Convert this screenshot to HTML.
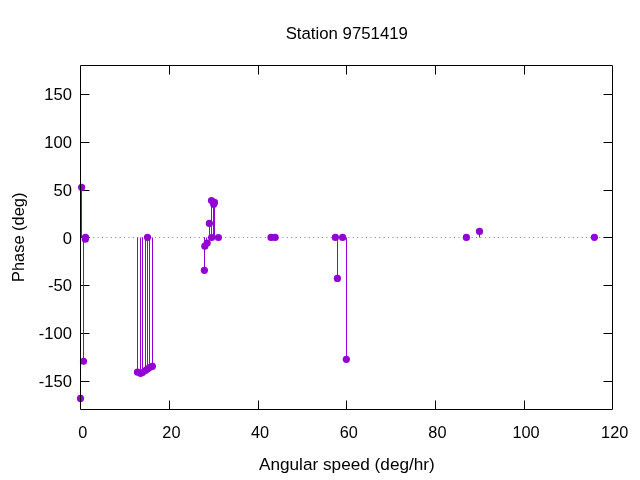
<!DOCTYPE html>
<html><head><meta charset="utf-8"><style>
html,body{margin:0;padding:0;background:#fff;width:640px;height:480px;overflow:hidden}
svg{display:block;will-change:transform}
.t{font-family:"Liberation Sans",sans-serif;font-size:16.3px;fill:#000}
.l{font-family:"Liberation Sans",sans-serif;font-size:17px;fill:#000}
</style></head><body>
<svg width="640" height="480" viewBox="0 0 640 480">
<rect width="640" height="480" fill="#fff"/>
<path d="M80.00 237.5h1M84.40 237.5h1M88.80 237.5h1M93.20 237.5h1M97.60 237.5h1M102.00 237.5h1M106.40 237.5h1M110.80 237.5h1M115.20 237.5h1M119.60 237.5h1M124.00 237.5h1M128.40 237.5h1M132.80 237.5h1M137.20 237.5h1M141.60 237.5h1M146.00 237.5h1M150.40 237.5h1M154.80 237.5h1M159.20 237.5h1M163.60 237.5h1M168.00 237.5h1M172.40 237.5h1M176.80 237.5h1M181.20 237.5h1M185.60 237.5h1M190.00 237.5h1M194.40 237.5h1M198.80 237.5h1M203.20 237.5h1M207.60 237.5h1M212.00 237.5h1M216.40 237.5h1M220.80 237.5h1M225.20 237.5h1M229.60 237.5h1M234.00 237.5h1M238.40 237.5h1M242.80 237.5h1M247.20 237.5h1M251.60 237.5h1M256.00 237.5h1M260.40 237.5h1M264.80 237.5h1M269.20 237.5h1M273.60 237.5h1M278.00 237.5h1M282.40 237.5h1M286.80 237.5h1M291.20 237.5h1M295.60 237.5h1M300.00 237.5h1M304.40 237.5h1M308.80 237.5h1M313.20 237.5h1M317.60 237.5h1M322.00 237.5h1M326.40 237.5h1M330.80 237.5h1M335.20 237.5h1M339.60 237.5h1M344.00 237.5h1M348.40 237.5h1M352.80 237.5h1M357.20 237.5h1M361.60 237.5h1M366.00 237.5h1M370.40 237.5h1M374.80 237.5h1M379.20 237.5h1M383.60 237.5h1M388.00 237.5h1M392.40 237.5h1M396.80 237.5h1M401.20 237.5h1M405.60 237.5h1M410.00 237.5h1M414.40 237.5h1M418.80 237.5h1M423.20 237.5h1M427.60 237.5h1M432.00 237.5h1M436.40 237.5h1M440.80 237.5h1M445.20 237.5h1M449.60 237.5h1M454.00 237.5h1M458.40 237.5h1M462.80 237.5h1M467.20 237.5h1M471.60 237.5h1M476.00 237.5h1M480.40 237.5h1M484.80 237.5h1M489.20 237.5h1M493.60 237.5h1M498.00 237.5h1M502.40 237.5h1M506.80 237.5h1M511.20 237.5h1M515.60 237.5h1M520.00 237.5h1M524.40 237.5h1M528.80 237.5h1M533.20 237.5h1M537.60 237.5h1M542.00 237.5h1M546.40 237.5h1M550.80 237.5h1M555.20 237.5h1M559.60 237.5h1M564.00 237.5h1M568.40 237.5h1M572.80 237.5h1M577.20 237.5h1M581.60 237.5h1M586.00 237.5h1M590.40 237.5h1M594.80 237.5h1M599.20 237.5h1M603.60 237.5h1M608.00 237.5h1" stroke="#808080" stroke-width="1" fill="none"/>
<path d="M80.5 381.5h9M612.5 381.5h-9M80.5 333.5h9M612.5 333.5h-9M80.5 285.5h9M612.5 285.5h-9M80.5 237.5h9M612.5 237.5h-9M80.5 190.5h9M612.5 190.5h-9M80.5 142.5h9M612.5 142.5h-9M80.5 94.5h9M612.5 94.5h-9M169.5 409.5v-9M169.5 65.5v9M258.5 409.5v-9M258.5 65.5v9M346.5 409.5v-9M346.5 65.5v9M435.5 409.5v-9M435.5 65.5v9M524.5 409.5v-9M524.5 65.5v9" stroke="#000" stroke-width="1" fill="none"/>
<path d="M80.5 237.5V398.4M81.5 237.5V187.3M83.5 237.5V361.25M85.5 237.5V237.4M85.5 237.5V239.2M137.5 237.5V372.2M140.5 237.5V373.3M142.5 237.5V372.5M145.5 237.5V370.5M147.5 237.5V369.0M149.5 237.5V367.5M152.5 237.5V366.3M147.5 237.5V237.3M204.5 237.5V270.3M204.5 237.5V246.2M206.5 237.5V243.0M209.5 237.5V223.4M211.5 237.5V200.5M214.5 237.5V202.4M213.5 237.5V204.3M211.5 237.5V237.5M218.5 237.5V237.5M271.5 237.5V237.4M275.5 237.5V237.4M335.0 237.5V237.4M337.5 237.5V278.4M342.5 237.5V237.4M346.5 237.5V359.3M466.5 237.5V237.4M479.5 237.5V231.4M594.5 237.5V237.3" stroke="#9400d3" stroke-width="1" fill="none"/>
<circle cx="80.5" cy="398.4" r="3.6" fill="#9400d3"/>
<circle cx="81.6" cy="187.3" r="3.6" fill="#9400d3"/>
<circle cx="83.5" cy="361.25" r="3.6" fill="#9400d3"/>
<circle cx="85.5" cy="237.4" r="3.6" fill="#9400d3"/>
<circle cx="85.3" cy="239.2" r="3.6" fill="#9400d3"/>
<circle cx="137.5" cy="372.2" r="3.6" fill="#9400d3"/>
<circle cx="140.5" cy="373.3" r="3.6" fill="#9400d3"/>
<circle cx="142.5" cy="372.5" r="3.6" fill="#9400d3"/>
<circle cx="145.5" cy="370.5" r="3.6" fill="#9400d3"/>
<circle cx="147.5" cy="369.0" r="3.6" fill="#9400d3"/>
<circle cx="149.5" cy="367.5" r="3.6" fill="#9400d3"/>
<circle cx="152.4" cy="366.3" r="3.6" fill="#9400d3"/>
<circle cx="147.5" cy="237.3" r="3.6" fill="#9400d3"/>
<circle cx="204.4" cy="270.3" r="3.6" fill="#9400d3"/>
<circle cx="204.8" cy="246.2" r="3.6" fill="#9400d3"/>
<circle cx="207.2" cy="243.0" r="3.6" fill="#9400d3"/>
<circle cx="209.4" cy="223.4" r="3.6" fill="#9400d3"/>
<circle cx="211.5" cy="200.5" r="3.6" fill="#9400d3"/>
<circle cx="214.5" cy="202.4" r="3.6" fill="#9400d3"/>
<circle cx="213.7" cy="204.3" r="3.6" fill="#9400d3"/>
<circle cx="211.6" cy="237.5" r="3.6" fill="#9400d3"/>
<circle cx="218.4" cy="237.5" r="3.6" fill="#9400d3"/>
<circle cx="271.0" cy="237.4" r="3.6" fill="#9400d3"/>
<circle cx="275.1" cy="237.4" r="3.6" fill="#9400d3"/>
<circle cx="335.4" cy="237.4" r="3.6" fill="#9400d3"/>
<circle cx="337.4" cy="278.4" r="3.6" fill="#9400d3"/>
<circle cx="342.6" cy="237.4" r="3.6" fill="#9400d3"/>
<circle cx="346.35" cy="359.3" r="3.6" fill="#9400d3"/>
<circle cx="466.4" cy="237.4" r="3.6" fill="#9400d3"/>
<circle cx="479.5" cy="231.4" r="3.6" fill="#9400d3"/>
<circle cx="594.4" cy="237.3" r="3.6" fill="#9400d3"/>
<path d="M80.5 65.5H612.5V409.5H80.5Z" stroke="#000" stroke-width="1" fill="none"/>
<text x="72" y="386.8" text-anchor="end" class="t" style="font-size:16.6px">-150</text>
<text x="72" y="339.1" text-anchor="end" class="t" style="font-size:16.6px">-100</text>
<text x="72" y="291.3" text-anchor="end" class="t" style="font-size:16.6px">-50</text>
<text x="72" y="243.5" text-anchor="end" class="t" style="font-size:16.6px">0</text>
<text x="72" y="195.7" text-anchor="end" class="t" style="font-size:16.6px">50</text>
<text x="72" y="147.9" text-anchor="end" class="t" style="font-size:16.6px">100</text>
<text x="72" y="100.2" text-anchor="end" class="t" style="font-size:16.6px">150</text>
<text x="82.7" y="437.6" text-anchor="middle" class="t">0</text>
<text x="171.4" y="437.6" text-anchor="middle" class="t">20</text>
<text x="260.0" y="437.6" text-anchor="middle" class="t">40</text>
<text x="348.7" y="437.6" text-anchor="middle" class="t">60</text>
<text x="437.4" y="437.6" text-anchor="middle" class="t">80</text>
<text x="526.0" y="437.6" text-anchor="middle" class="t">100</text>
<text x="614.7" y="437.6" text-anchor="middle" class="t">120</text>
<text x="346.8" y="39.2" text-anchor="middle" class="l" style="font-size:16.8px">Station 9751419</text>
<text x="346.9" y="470.2" text-anchor="middle" class="l" style="font-size:17.2px">Angular speed (deg/hr)</text>
<text transform="translate(24,237.3) rotate(-90)" text-anchor="middle" class="l" style="font-size:16.4px">Phase (deg)</text>
</svg>
</body></html>
